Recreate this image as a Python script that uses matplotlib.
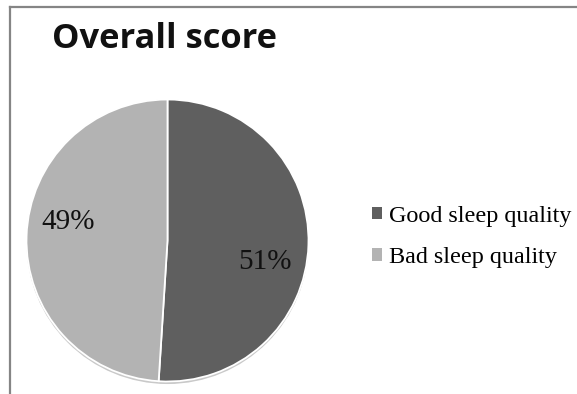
import matplotlib.pyplot as plt
from matplotlib.lines import Line2D
from matplotlib.patches import Circle

# Sleep quality split for the overall score
categories = ["Good sleep quality", "Bad sleep quality"]
shares = [51, 49]
slice_colors = ["#5f5f5f", "#b3b3b3"]

W, H = 577, 394
fig = plt.figure(figsize=(W / 100, H / 100), dpi=100)
fig.patch.set_facecolor("white")

def fx(px):
    return px / W

def fy(py):
    return 1 - py / H

# chart border (top and left edges)
fig.add_artist(Line2D([fx(10), fx(577)], [fy(7), fy(7)], color="#858585", lw=1.6))
fig.add_artist(Line2D([fx(10), fx(10)], [fy(7), fy(394)], color="#858585", lw=1.6))

fig.text(fx(52), fy(48), "Overall score", fontsize=24.8, fontweight="bold",
         family="Open Sans", va="baseline", ha="left", color="#111111")

# pie axes: centre (167.5, 240.5) px, radius 141 px
cx, cy, r = 167.5, 240.5, 141
lim = 1.15
side = 2 * r * lim
ax = fig.add_axes([fx(cx - side / 2), fy(cy + side / 2), side / W, side / H])

# lower rim for a slight 3-D look
ax.add_patch(Circle((0, -0.018), 1.0, facecolor="#c9c9c9", edgecolor="none", zorder=0))
wedges, _ = ax.pie(shares, colors=slice_colors, startangle=90, counterclock=False,
                   wedgeprops=dict(edgecolor="white", linewidth=1.3))
for w in wedges:
    w.set_zorder(1)
ax.set_xlim(-lim, lim)
ax.set_ylim(-lim, lim)
ax.set_aspect("equal")
ax.axis("off")

label_pos = [(0.69, -0.15), (-0.705, 0.13)]
for val, (lx, ly) in zip(shares, label_pos):
    ax.text(lx, ly, f"{val}%", fontsize=21, family="Liberation Serif",
            ha="center", va="center", color="#111111", zorder=3)

leg = fig.legend(wedges, categories, loc="center left",
                 bbox_to_anchor=(fx(372), fy(237)), frameon=False,
                 prop=dict(family="Liberation Serif", size=17.4),
                 handlelength=0.42, handleheight=0.42, handletextpad=0.3,
                 labelspacing=0.85, borderpad=0, borderaxespad=0)
for h in leg.legend_handles:
    h.set_edgecolor("none")

fig.savefig("out.png", dpi=100)
